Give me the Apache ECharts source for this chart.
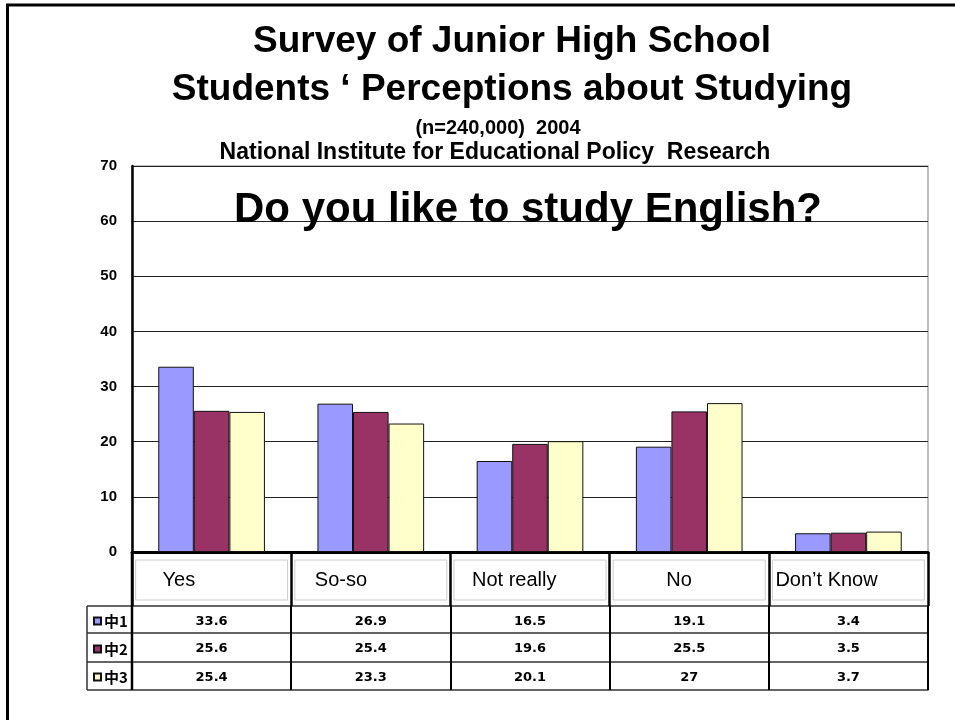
<!DOCTYPE html>
<html><head><meta charset="utf-8">
<script src="https://cdn.jsdelivr.net/npm/echarts@6/dist/echarts.min.js"></script>
<style>html,body{margin:0;padding:0;background:#fff}#c{width:955px;height:720px}</style>
</head><body><div id="c"></div>
<script>
const categories = ['Yes', 'So-so', 'Not really', 'No', 'Don\u2019t Know'];
const seriesNames = ['中1', '中2', '中3'];
const grade1 = [33.6, 26.9, 16.5, 19.1, 3.4];
const grade2 = [25.6, 25.4, 19.6, 25.5, 3.5];
const grade3 = [25.4, 23.3, 20.1, 27, 3.7];
const yTicks = [0, 10, 20, 30, 40, 50, 60, 70];

const seriesData = [grade1, grade2, grade3];
const colors = ['#9999FF', '#993366', '#FFFFCC'];
const sans = "'Liberation Sans', Arial, sans-serif";
const cjk = "'Noto Sans CJK JP', 'Liberation Sans', sans-serif";
const numFont = "'DejaVu Sans', 'Liberation Sans', sans-serif";

const labelPads = [27, 20, 18, 53, 3];
const rich = {};
labelPads.forEach((p, i) => {
  rich['b' + i] = {
    width: 152 - p, height: 40, padding: [0, 0, 0, p], align: 'left',
    borderColor: '#cccccc', borderWidth: 1,
    fontSize: 20, fontFamily: sans, color: '#000'
  };
});

const gridTop = 166, gridBottomY = 552;
const rowOffsets = [54, 81, 110];
const rowTicks = [27, 29, 28];

const xAxes = [{
  type: 'category', data: categories, position: 'bottom', gridIndex: 0,
  axisLine: { lineStyle: { color: '#000', width: 3 } },
  axisTick: { show: true, length: 54, lineStyle: { color: '#000', width: 2.5 } },
  axisLabel: {
    interval: 0, margin: 8,
    formatter: (v, i) => '{b' + i + '|' + v + '}',
    rich: rich
  }
}];
seriesData.forEach((arr, r) => {
  xAxes.push({
    type: 'category', data: categories, position: 'bottom', gridIndex: 0, offset: rowOffsets[r],
    axisLine: { lineStyle: { color: '#333', width: 1.5 } },
    axisTick: { show: true, length: rowTicks[r], lineStyle: { color: '#000', width: 2 } },
    axisLabel: {
      interval: 0, margin: 9, fontSize: 13, fontWeight: 'bold', fontFamily: numFont, color: '#000',
      formatter: (v, i) => String(arr[i])
    }
  });
});
xAxes.push({
  type: 'category', data: categories, position: 'bottom', gridIndex: 0, offset: 138,
  axisLine: { lineStyle: { color: '#333', width: 1.5 } },
  axisTick: { show: false }, axisLabel: { show: false }
});

const option = {
  animation: false,
  backgroundColor: '#fff',
  title: [
    { text: 'Survey of Junior High School\nStudents \u2018 Perceptions about Studying', left: 507, top: 13, textAlign: 'center',
      textStyle: { fontSize: 37, fontWeight: 'bold', fontFamily: sans, color: '#000', lineHeight: 48 } },
    { text: '(n=240,000)  2004', left: 493, top: 113, textAlign: 'center',
      textStyle: { fontSize: 20, fontWeight: 'bold', fontFamily: sans, color: '#000' } },
    { text: 'National Institute for Educational Policy  Research', left: 490, top: 136, textAlign: 'center',
      textStyle: { fontSize: 23, fontWeight: 'bold', fontFamily: sans, color: '#000' } },
    { text: 'Do you like to study English?', left: 523, top: 184, textAlign: 'center',
      textStyle: { fontSize: 42, fontWeight: 'bold', fontFamily: sans, color: '#000' } }
  ],
  legend: {
    orient: 'vertical', left: 88, top: 608, itemWidth: 7, itemHeight: 7, itemGap: 12,
    icon: 'rect', data: seriesNames,
    textStyle: { fontSize: 15, fontWeight: 'bold', fontFamily: cjk, color: '#000', lineHeight: 16, padding: [0, 0, 0, -2] }
  },
  grid: { left: 132, right: 27, top: gridTop, bottom: 720 - gridBottomY, show: true, borderColor: '#aaa', borderWidth: 1.5 },
  xAxis: xAxes,
  yAxis: {
    type: 'value', min: yTicks[0], max: yTicks[yTicks.length - 1], interval: 10,
    axisLine: { show: true, lineStyle: { color: '#000', width: 2.5 } },
    axisTick: { show: false },
    splitLine: { lineStyle: { color: '#222', width: 1 } },
    axisLabel: { margin: 15, fontSize: 15, fontWeight: 'bold', fontFamily: sans, color: '#000' }
  },
  series: seriesNames.map((n, k) => ({
    name: n, type: 'bar', data: seriesData[k], xAxisIndex: 0,
    barGap: '0%', barCategoryGap: '33%',
    itemStyle: { color: colors[k], borderColor: '#111', borderWidth: 1 }
  })),
  graphic: [
    { type: 'line', shape: { x1: 7.5, y1: 4, x2: 7.5, y2: 720 }, style: { stroke: '#000', lineWidth: 3 } },
    { type: 'line', shape: { x1: 6, y1: 5, x2: 955, y2: 5 }, style: { stroke: '#000', lineWidth: 3 } },
    { type: 'line', shape: { x1: 87, y1: 606, x2: 132, y2: 606 }, style: { stroke: '#333', lineWidth: 1.5 } },
    { type: 'line', shape: { x1: 87, y1: 633, x2: 132, y2: 633 }, style: { stroke: '#333', lineWidth: 1.5 } },
    { type: 'line', shape: { x1: 87, y1: 662, x2: 132, y2: 662 }, style: { stroke: '#333', lineWidth: 1.5 } },
    { type: 'line', shape: { x1: 87, y1: 690, x2: 132, y2: 690 }, style: { stroke: '#333', lineWidth: 1.5 } },
    { type: 'line', shape: { x1: 87, y1: 606, x2: 87, y2: 690 }, style: { stroke: '#333', lineWidth: 1.5 } },
    { type: 'line', shape: { x1: 132, y1: 552, x2: 132, y2: 690 }, style: { stroke: '#000', lineWidth: 2.5 } }
  ]
};
const chart = echarts.init(document.getElementById('c'), null, { renderer: 'canvas' });
chart.setOption(option);
</script></body></html>
